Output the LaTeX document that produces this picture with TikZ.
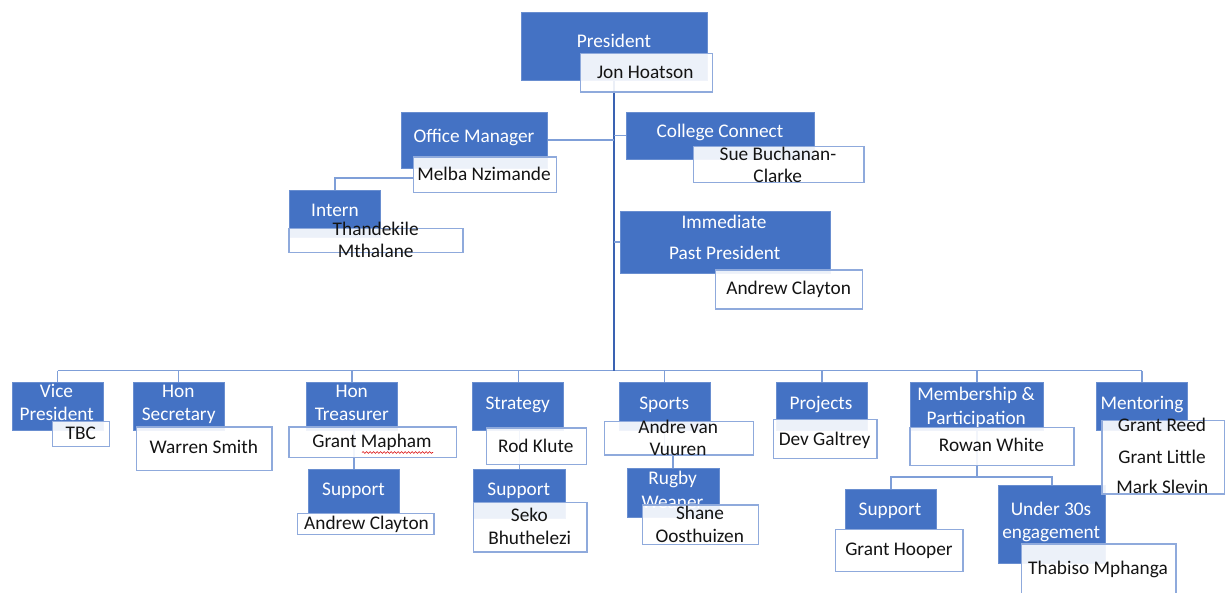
\documentclass[tikz,border=0pt]{standalone}
\usepackage{fontspec}
\setmainfont{Carlito}
\usetikzlibrary{decorations.pathmorphing}
\pgfdeclarelayer{bg}
\pgfdeclarelayer{paper}
\pgfsetlayers{paper,bg,main}
\definecolor{obblue}{HTML}{4472C4}
\definecolor{obedge}{HTML}{8FAADC}
\definecolor{obline}{HTML}{7F9FD8}
\definecolor{obtrunk}{HTML}{3A62B2}
\newcommand{\obbox}[6]{\node[#6, minimum width={(#4)-(#2)}, minimum height={(#5)-(#3)}, anchor=north west] (#1) at (#2,#3) {};}
\tikzset{
  rolebox/.style={fill=obblue, draw=obblue!80!white, line width=0.6pt, inner sep=0pt, outer sep=0pt},
  namebox/.style={fill=white, fill opacity=0.9, draw=obedge, line width=1.5pt, inner sep=0pt, outer sep=0pt},
  roletext/.style={text=white, font=\fontsize{19.3}{23}\selectfont, inner sep=0pt, text height=12.4pt, text depth=0pt},
  nametext/.style={text=black!92, font=\fontsize{19.3}{23}\selectfont, inner sep=0pt, text height=12.4pt, text depth=0pt},
  link/.style={draw=obline, line width=1.4pt},
  trunkline/.style={draw=obtrunk, line width=2pt},
}
\begin{document}
\begin{tikzpicture}[x=1pt,y=-1pt]
\useasboundingbox (0,0) rectangle (1229,592);
\begin{pgfonlayer}{paper}
\fill[white] (0,0) rectangle (1229,592);
\end{pgfonlayer}
\clip (0,0) rectangle (1229,592);
% role boxes
\obbox{pres}{521.7}{12}{707}{80}{rolebox}
\obbox{om}{401.7}{112}{547}{168}{rolebox}
\obbox{cc}{626}{112}{814}{159}{rolebox}
\obbox{intern}{289.6}{190}{380.6}{237}{rolebox}
\obbox{ipp}{620}{211}{830}{273}{rolebox}
\obbox{vp}{12}{382}{103}{430}{rolebox}
\obbox{hs}{133}{382}{224}{430}{rolebox}
\obbox{ht}{306.3}{382}{397.3}{430}{rolebox}
\obbox{strat}{472.7}{382}{563.7}{430}{rolebox}
\obbox{sports}{619.3}{382}{710}{430}{rolebox}
\obbox{proj}{776.7}{382}{867}{430}{rolebox}
\obbox{mem}{910.7}{382}{1043.3}{430}{rolebox}
\obbox{ment}{1096.7}{382}{1187.3}{430}{rolebox}
\obbox{supa}{308.7}{469.3}{399.3}{513.3}{rolebox}
\obbox{supb}{473.7}{469.3}{565}{518}{rolebox}
\obbox{rugby}{627}{468.3}{719}{517}{rolebox}
\obbox{supc}{845.7}{489}{936}{529}{rolebox}
\obbox{uthirty}{998}{485.3}{1105.7}{563.3}{rolebox}
% role texts
\node[roletext] (t-pres) at (614,41.5) {President};
\node[roletext] (t-om) at (474,136) {Office Manager};
\node[roletext] (t-cc) at (720,131.3) {College Connect};
\node[roletext] (t-intern) at (335,210) {Intern};
\node[roletext] (t-ipp1) at (724,222) {Immediate};
\node[roletext] (t-ipp2) at (724.7,253) {Past President};
\node[roletext] (t-vp1) at (56.5,391) {Vice};
\node[roletext] (t-vp2) at (56.7,414.5) {President};
\node[roletext] (t-hs1) at (178.3,391.5) {Hon};
\node[roletext] (t-hs2) at (178.7,414) {Secretary};
\node[roletext] (t-ht1) at (351.7,391.5) {Hon};
\node[roletext] (t-ht2) at (351.8,414) {Treasurer};
\node[roletext] (t-strat) at (517.7,403) {Strategy};
\node[roletext] (t-sports) at (664.3,403) {Sports};
\node[roletext] (t-proj) at (821,403) {Projects};
\node[roletext] (t-mem1) at (976,394.5) {Membership \&};
\node[roletext] (t-mem2) at (976.3,417.8) {Participation};
\node[roletext] (t-ment) at (1142,403) {Mentoring};
\node[roletext] (t-supa) at (353.5,489.5) {Support};
\node[roletext] (t-supb) at (518.8,489.5) {Support};
\node[roletext] (t-rug1) at (672.7,478) {Rugby};
\node[roletext] (t-rug2) at (672.5,502) {Weaner};
\node[roletext] (t-supc) at (890,509) {Support};
\node[roletext] (t-ut1) at (1051,509) {Under 30s};
\node[roletext] (t-ut2) at (1051.2,532) {engagement};
% name boxes
\obbox{jon}{580.3}{53.3}{712.7}{92}{namebox}
\obbox{melba}{413.3}{157}{556.3}{192.3}{namebox}
\obbox{sue}{693.3}{146.7}{864}{182.3}{namebox}
\obbox{thand}{288.8}{228.7}{463}{252.7}{namebox}
\obbox{andrewa}{715.7}{270}{862.7}{309}{namebox}
\obbox{tbc}{52.7}{421.7}{109.7}{446.7}{namebox}
\obbox{warren}{136.7}{427}{272}{470.3}{namebox}
\obbox{mapham}{289}{427}{456.5}{457.3}{namebox}
\obbox{rod}{486.3}{428}{586.3}{464.3}{namebox}
\obbox{seko}{473.3}{502.3}{587}{552}{namebox}
\obbox{andre}{604.7}{421.7}{753.3}{455}{namebox}
\obbox{shane}{642.7}{505}{758.3}{544.3}{namebox}
\obbox{dev}{773.3}{419.3}{877}{458.3}{namebox}
\obbox{rowan}{910}{427.3}{1074}{465.3}{namebox}
\obbox{mnames}{1102}{420.7}{1224.3}{494}{namebox}
\obbox{andrewb}{297.7}{513.3}{434}{534.3}{namebox}
\obbox{hooper}{835.7}{529.3}{963}{571.7}{namebox}
\obbox{thabiso}{1021.7}{544}{1176}{604}{namebox}
% connectors (behind boxes)
\coordinate (bar) at (0,370.5);
\coordinate (rj) at (0,450);
\coordinate (mj) at (0,477);
\begin{pgfonlayer}{bg}
\draw[link] (vp.north |- bar) -- (ment.north |- bar);
\foreach \b in {vp,hs,ht,strat,sports,proj,mem,ment} {\draw[link] (\b.north) -- (\b.north |- bar);}
\draw[trunkline] (pres.south) -- (pres.south |- bar);
\draw[link] (om.east) -- (om.east -| pres.south);
\draw[link] (cc.west) -- (cc.west -| pres.south);
\draw[link] (ipp.west) -- (ipp.west -| pres.south);
\draw[link] ([yshift=-3.4pt]melba.west) -| (intern.north);
\draw[link] (supa.north |- ht.south) -- (supa.north);
\draw[link] (supb.north |- strat.south) -- (supb.north);
\draw[link] (sports.south) -- (sports.south |- rj) -| (rugby.north);
\draw[link] (mem.south) -- (mem.south |- mj);
\draw[link] (supc.north) |- (mem.south |- mj) -| (uthirty.north);
\end{pgfonlayer}
% name texts
\node[nametext] (n-jon) at (645.3,72) {Jon Hoatson};
\node[nametext] (n-melba) at (484,174.7) {Melba Nzimande};
\node[nametext] (n-sue1) at (778,154) {Sue Buchanan-};
\node[nametext] (n-sue2) at (777.7,176.7) {Clarke};
\node[nametext] (n-th1) at (375.7,229) {Thandekile};
\node[nametext] (n-th2) at (375.7,251.3) {Mthalane};
\node[nametext] (n-andrewa) at (788.7,288) {Andrew Clayton};
\node[nametext] (n-tbc) at (80.8,432.8) {TBC};
\node[nametext] (n-warren) at (203.8,447.5) {Warren Smith};
\node[nametext] (n-mapham) at (372,441) {Grant Mapham};
\node[nametext] (n-andrewb) at (366.5,523) {Andrew Clayton};
\node[nametext] (n-rod) at (535.8,446) {Rod Klute};
\node[nametext] (n-seko1) at (529.3,515.5) {Seko};
\node[nametext] (n-seko2) at (529.7,538) {Bhuthelezi};
\node[nametext] (n-andre1) at (678.2,427) {Andre van};
\node[nametext] (n-andre2) at (678,449.7) {Vuuren};
\node[nametext] (n-shane1) at (700,513.5) {Shane};
\node[nametext] (n-shane2) at (699.7,536.3) {Oosthuizen};
\node[nametext] (n-dev) at (824.5,439) {Dev Galtrey};
\node[nametext] (n-rowan) at (991.5,445.7) {Rowan White};
\node[nametext] (n-gr) at (1162,425.3) {Grant Reed};
\node[nametext] (n-gl) at (1162,457) {Grant Little};
\node[nametext] (n-ms) at (1162.3,487) {Mark Slevin};
\node[nametext] (n-hooper) at (899,549.7) {Grant Hooper};
\node[nametext] (n-thabiso) at (1098,568.3) {Thabiso Mphanga};
% spell-check squiggle
\draw[red!85!black, line width=0.6pt, decorate, decoration={snake, amplitude=0.9pt, segment length=3.5pt}] (362,452.5) -- (433,452.5);
\end{tikzpicture}
\end{document}
